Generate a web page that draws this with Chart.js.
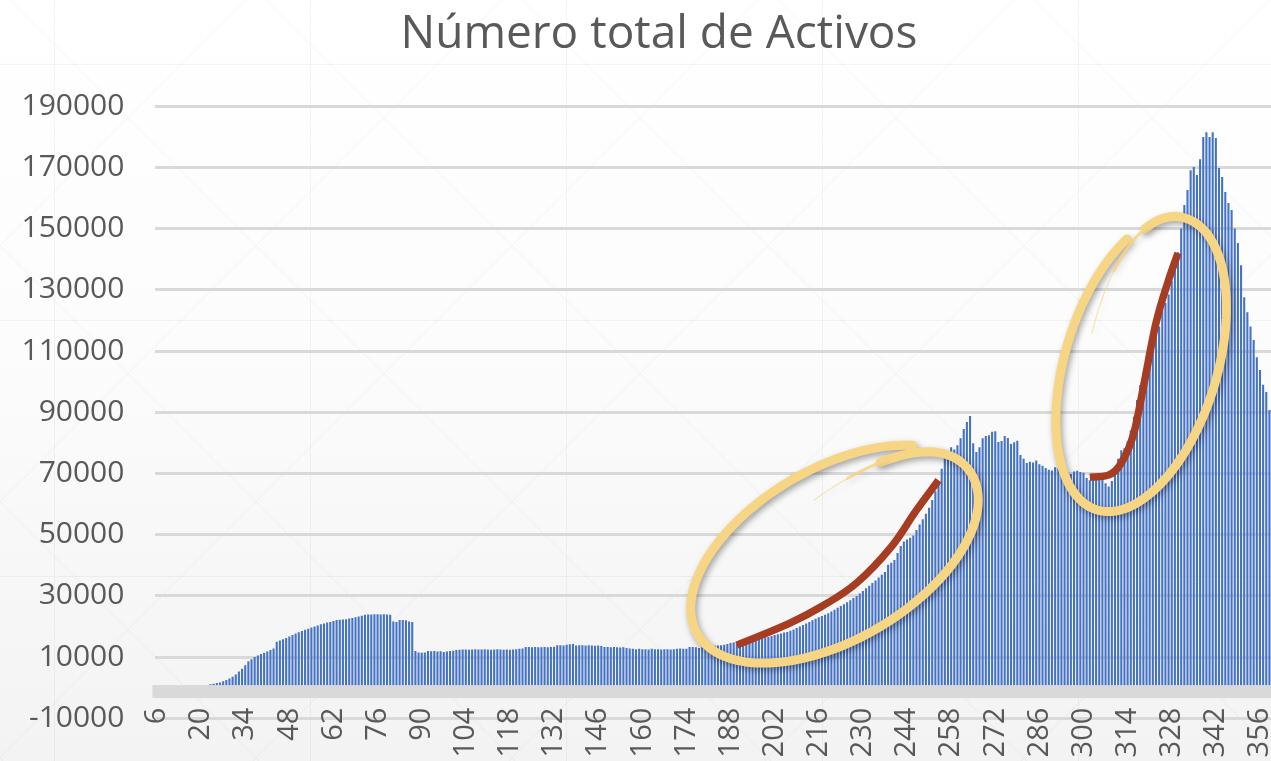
<!DOCTYPE html>
<html lang="es">
<head>
<meta charset="utf-8">
<title>Número total de Activos</title>
<script src="https://cdn.jsdelivr.net/npm/chart.js@4.4.1/dist/chart.umd.min.js"></script>
<style>
  html, body { margin: 0; padding: 0; background: #fff; overflow: hidden; }
  #wrap { position: relative; width: 1271px; height: 761px; }
</style>
</head>
<body>
<div id="wrap"><canvas id="activos"></canvas></div>
<script>
    "use strict";

    // primer día de la serie, cada valor siguiente es un día más
    const firstDay = 6

    const activosA = [0, 0, 0, 0, 0, 0, 0, 0, 0, 0, 0, 0, 0, 0, 0, 0,
        800, 1100, 1300, 1500, 1700, 2100, 2500, 3000, 3600, 4300, 5300, 6200, 7300, 8600]
    const activosB = [9300, 10000, 10500, 11000, 11400, 11800, 12300, 12800, 15000, 15400,
        15800, 16200, 16700, 17200, 17700, 18100, 18500, 18900, 19300, 19700,
        20000, 20300, 20700, 21000, 21300, 21500, 21800, 22100, 22200, 22300]
    const activosC = [22400, 22600, 22800, 23000, 23300, 23500, 23800, 23900, 23900, 24000,
        24000, 23900, 24000, 23900, 23800, 21600, 21500, 22100, 22100, 22000,
        21600, 21500, 12000, 11500, 11400, 11500, 12000, 11900, 12000, 11800]
    const activosD = [11900, 11700, 11800, 12000, 12100, 12300, 12400, 12500, 12500, 12400,
        12500, 12600, 12500, 12500, 12600, 12500, 12400, 12500, 12600, 12500,
        12400, 12500, 12400, 12500, 12600, 12700, 12800, 13300, 13300, 13200]
    const activosE = [13300, 13200, 13200, 13300, 13200, 13300, 13400, 13900, 13900, 13800,
        14000, 14200, 14300, 13800, 13900, 13900, 13800, 13900, 13800, 13700,
        13800, 13600, 13300, 13300, 13200, 13300, 13200, 13100, 13200, 13000]
    const activosF = [12800, 12700, 12600, 12700, 12600, 12600, 12500, 12700, 12600, 12600,
        12500, 12600, 12600, 12500, 12600, 12700, 12800, 12700, 12700, 13300,
        13300, 13200, 13000, 13200, 13300, 13500, 13400, 13700, 13800, 13900]
    const activosG = [14000, 14300, 14600, 14800, 15000, 15100, 15300, 15500, 15700, 15800,
        16000, 16200, 16300, 16500, 16600, 16900, 17200, 17500, 17700, 18000,
        18200, 18600, 19000, 19500, 20000, 20500, 21000, 21500, 22000, 22500]
    const activosH = [23000, 23400, 23800, 24300, 24900, 25500, 26100, 26700, 27300, 27900,
        28600, 29300, 30000, 30800, 31600, 32500, 33300, 34200, 35000, 36000,
        36900, 37800, 40200, 40800, 41700, 44000, 46300, 47800, 48400, 49000]
    const activosI = [49700, 51500, 53300, 55000, 56800, 58800, 61300, 64200, 67300, 71500,
        75000, 76600, 78600, 77800, 79200, 81500, 84500, 86800, 88800, 79900,
        77000, 78600, 81500, 82200, 82500, 83600, 83800, 80300, 80600, 82200]
    const activosJ = [81600, 79600, 80200, 80700, 76000, 74800, 73400, 73800, 73600, 74200,
        73000, 72500, 71800, 71200, 71000, 72000, 71700, 70900, 70400, 70200,
        69800, 70600, 70900, 70500, 70200, 68500, 67800, 68400, 68900, 68000]
    const activosK = [69200, 66800, 65700, 67500, 70500, 74800, 77600, 78200, 80500, 84100,
        88500, 94000, 98900, 103000, 106000, 109600, 111500, 115300, 118000, 123400,
        125700, 128500, 133000, 137400, 142300, 150000, 157700, 162600, 169100, 170100]
    const activosL = [167500, 172700, 179900, 181500, 179900, 181500, 179600, 169800,
        166900, 162000, 158400, 156100, 150000, 145300, 138000, 127600, 122700, 118000,
        113600, 108000, 103800, 99000, 96600, 90700]

    const activos = [].concat(activosA, activosB, activosC, activosD, activosE, activosF,
        activosG, activosH, activosI, activosJ, activosK, activosL)
    const days = activos.map((v, i) => firstDay + i)

    const xTickLabels = [6, 20, 34, 48, 62, 76, 90, 104, 118, 132, 146, 160, 174, 188, 202,
        216, 230, 244, 258, 272, 286, 300, 314, 328, 342, 356]
    const yTicks = [-10000, 10000, 30000, 50000, 70000, 90000, 110000, 130000, 150000, 170000, 190000]

    // trazos rojos a mano alzada (día, valor)
    const trendA_days = [190, 207, 217, 228, 239, 247, 254]
    const trendA_values = [13900, 21200, 26600, 34200, 46000, 58000, 67800]
    const trendB_days = [302, 308, 312, 316, 319, 323, 327, 330]
    const trendB_values = [68800, 69500, 73400, 83200, 98200, 119100, 133200, 142000]

    // óvalos amarillos: extremos del eje mayor en (día, valor)
    const loops = [
        { from: [177.5, 17500], to: [264.5, 69770], ratio0: 0.54, ratio1: 0.36,
          t0: -0.69, tThick: -2 * Math.PI - 1.0, t1: -2 * Math.PI - 1.51 },
        { from: [304.3, 58070], to: [332.3, 153430], ratio0: 0.5, ratio1: 0.37,
          t0: -0.71, tThick: -2 * Math.PI - 0.54, t1: -2 * Math.PI - 1.47 }
    ]

    const textGrey = '#595959'
    const gridGrey = '#d9d9d9'
    const barBlue = '#4472c4'
    const penRed = '#a63d22'
    const markerYellow = '#f6d585'

    Chart.defaults.font.family = "'Open Sans', sans-serif"

    const toPoints = (ds, vs) => ds.map((d, i) => ({ x: d, y: vs[i] }))

    const backgroundPlugin = {
        id: 'fondo',
        beforeDraw(chart) {
            const { ctx, width, height } = chart
            ctx.save()
            const g = ctx.createLinearGradient(0, 0, 0, height)
            g.addColorStop(0, '#ffffff')
            g.addColorStop(0.45, '#fcfcfc')
            g.addColorStop(1, '#f3f3f3')
            ctx.fillStyle = g
            ctx.fillRect(0, 0, width, height)
            // rejilla decorativa muy tenue del fondo
            ctx.strokeStyle = 'rgba(0,0,0,0.04)'
            ctx.lineWidth = 1
            ctx.beginPath()
            for (let x = 54; x < width; x += 256) {
                ctx.moveTo(x + 0.5, 0)
                ctx.lineTo(x + 0.5, height)
            }
            for (const y of [64, 320, 576]) {
                ctx.moveTo(0, y + 0.5)
                ctx.lineTo(width, y + 0.5)
            }
            for (let c = -1024; c < width + 1024; c += 256) {
                ctx.moveTo(c, -10)
                ctx.lineTo(c + height + 20, height + 10)
                ctx.moveTo(c, -10)
                ctx.lineTo(c - height - 20, height + 10)
            }
            ctx.stroke()
            ctx.restore()
        }
    }

    function drawLoop(ctx, xs, ys, loop) {
        const p1 = { x: xs.getPixelForValue(loop.from[0] - firstDay), y: ys.getPixelForValue(loop.from[1]) }
        const p2 = { x: xs.getPixelForValue(loop.to[0] - firstDay), y: ys.getPixelForValue(loop.to[1]) }
        const cx = (p1.x + p2.x) / 2
        const cy = (p1.y + p2.y) / 2
        const a = Math.hypot(p2.x - p1.x, p2.y - p1.y) / 2
        const ang = Math.atan2(p2.y - p1.y, p2.x - p1.x)
        const ux = Math.cos(ang), uy = Math.sin(ang)
        const vx = -Math.sin(ang), vy = Math.cos(ang)
        const turn = -2 * Math.PI
        const pt = (t) => {
            let r = loop.ratio0
            if (t < turn) r = loop.ratio0 + (loop.ratio1 - loop.ratio0) * (t - turn) / (loop.t1 - turn)
            const b = a * r
            return [cx + a * Math.cos(t) * ux + b * Math.sin(t) * vx,
                    cy + a * Math.cos(t) * uy + b * Math.sin(t) * vy]
        }
        const path = (from, to) => {
            ctx.beginPath()
            const n = 160
            for (let i = 0; i <= n; i++) {
                const [x, y] = pt(from + (to - from) * i / n)
                if (i === 0) ctx.moveTo(x, y)
                else ctx.lineTo(x, y)
            }
            ctx.stroke()
        }
        ctx.save()
        ctx.strokeStyle = markerYellow
        ctx.lineCap = 'round'
        ctx.lineJoin = 'round'
        ctx.shadowColor = 'rgba(0,0,0,0.35)'
        ctx.shadowBlur = 6
        ctx.shadowOffsetX = 2
        ctx.shadowOffsetY = 3
        ctx.lineWidth = 9
        path(loop.t0, loop.tThick)
        // cola fina del trazo
        ctx.shadowColor = 'rgba(0,0,0,0.12)'
        ctx.lineWidth = 3
        ctx.globalAlpha = 0.8
        path(loop.tThick + 0.05, (loop.tThick + loop.t1) / 2)
        ctx.lineWidth = 1.2
        ctx.globalAlpha = 0.6
        path(loop.tThick, loop.t1)
        ctx.restore()
    }

    const overlayPlugin = {
        id: 'marcas',
        afterLayout(chart) {
            // el título está centrado sobre el gráfico completo
            if (chart.titleBlock) chart.titleBlock.left += 47
        },
        afterDatasetsDraw(chart) {
            const { ctx, chartArea, scales } = chart
            const y0 = scales.y.getPixelForValue(0)
            ctx.save()
            ctx.fillStyle = gridGrey
            ctx.fillRect(chartArea.left - 3, y0 - 2.6, chartArea.right - chartArea.left + 3, 13)
            ctx.restore()
            loops.forEach(l => drawLoop(ctx, scales.x, scales.y, l))
        }
    }

    new Chart(document.getElementById('activos'), {
        type: 'bar',
        data: {
            labels: days,
            datasets: [
                {
                    type: 'line',
                    data: toPoints(trendA_days, trendA_values),
                    borderColor: penRed,
                    borderWidth: 7.5,
                    borderCapStyle: 'butt',
                    pointRadius: 0,
                    tension: 0.4,
                    order: 1
                },
                {
                    type: 'line',
                    data: toPoints(trendB_days, trendB_values),
                    borderColor: penRed,
                    borderWidth: 7.5,
                    borderCapStyle: 'butt',
                    pointRadius: 0,
                    cubicInterpolationMode: 'monotone',
                    order: 1
                },
                {
                    label: 'Activos',
                    data: activos,
                    backgroundColor: barBlue,
                    borderWidth: 0,
                    categoryPercentage: 1,
                    barPercentage: 0.66,
                    order: 2
                }
            ]
        },
        options: {
            responsive: true,
            maintainAspectRatio: false,
            animation: false,
            layout: { padding: { left: 0, right: 0, top: 0, bottom: 42.7 } },
            plugins: {
                legend: { display: false },
                tooltip: { enabled: false },
                title: {
                    display: true,
                    text: 'Número total de Activos',
                    color: textGrey,
                    font: { size: 46, weight: 'normal', lineHeight: 1.2 },
                    padding: { top: 7, bottom: 44 }
                }
            },
            scales: {
                x: {
                    position: { y: 0 },
                    grid: { display: false, drawTicks: false },
                    border: { display: false },
                    ticks: {
                        autoSkip: false,
                        minRotation: 90,
                        maxRotation: 90,
                        padding: 20,
                        color: textGrey,
                        font: { size: 29 },
                        callback: function (value) {
                            const d = this.getLabelForValue(value)
                            return xTickLabels.includes(Number(d)) ? String(d) : ''
                        }
                    },
                    afterFit(scale) {
                        scale.paddingLeft = 0
                        scale.paddingRight = 0
                        scale.paddingTop = 0
                        scale.paddingBottom = 0
                    }
                },
                y: {
                    min: -10000,
                    max: 190000,
                    grid: { color: gridGrey, lineWidth: 3, drawTicks: false },
                    border: { display: false },
                    ticks: {
                        padding: 31,
                        color: textGrey,
                        font: { size: 30 },
                        callback: (v) => String(v)
                    },
                    afterBuildTicks(scale) {
                        scale.ticks = yTicks.map(v => ({ value: v }))
                    },
                    afterFit(scale) {
                        scale.width = 155.4
                        scale.paddingTop = 0
                        scale.paddingBottom = 0
                    }
                }
            }
        },
        plugins: [backgroundPlugin, overlayPlugin]
    })
</script>
</body>
</html>
